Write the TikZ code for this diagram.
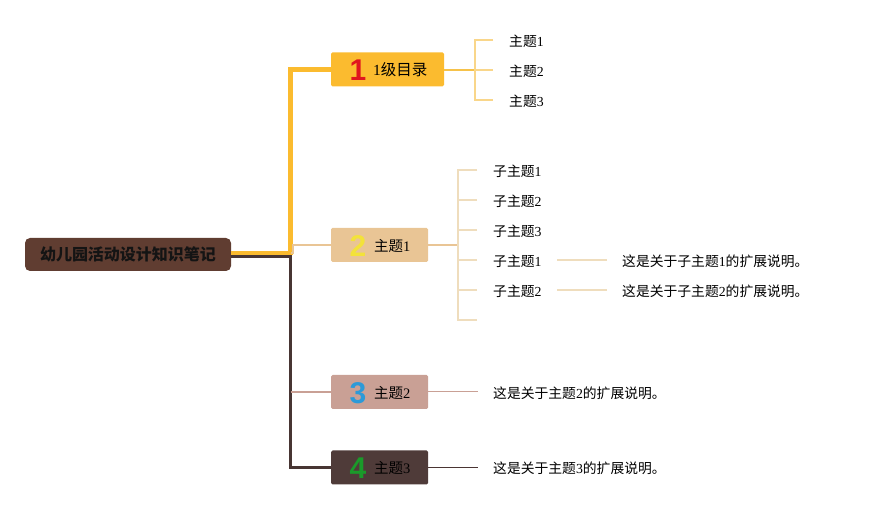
\documentclass[tikz,border=0pt]{standalone}
\usepackage{fontspec}
\setmainfont{Liberation Serif}
\newfontfamily\cjk{Noto Sans CJK SC}
\newfontfamily\numfont{Liberation Sans}
\definecolor{rootfill}{HTML}{603D31}
\definecolor{cyellow}{HTML}{FBBB2F}
\definecolor{ctan}{HTML}{E9C595}
\definecolor{crose}{HTML}{C9A095}
\definecolor{cdark}{HTML}{4F3B39}
\definecolor{clinedark}{HTML}{4A3533}
\definecolor{lyellow}{HTML}{F9D68A}
\definecolor{myellow}{HTML}{F6C24A}
\definecolor{ltan}{HTML}{EFDDBD}
\definecolor{nred}{HTML}{E0161E}
\definecolor{nyellow}{HTML}{F3E23A}
\definecolor{nblue}{HTML}{2C9AD8}
\definecolor{ngreen}{HTML}{1A9A2A}
\begin{document}
\begin{tikzpicture}[x=1pt,y=-1pt,
  topicbox/.style={rectangle, rounded corners=1.5pt, minimum height=34pt, inner sep=0pt},
  badge/.style={font=\numfont\bfseries\fontsize{30}{30}\selectfont, inner sep=0pt},
  toptext/.style={anchor=west, inner sep=0pt, font=\fontsize{14.5}{14.5}\selectfont},
  leaf/.style={anchor=west, inner sep=0pt, font=\fontsize{13.8}{13.8}\selectfont},
]
\useasboundingbox (0,0) rectangle (871,510);
% root
\node[fill=rootfill, rounded corners=5pt, minimum width=206pt, minimum height=33pt, inner sep=0pt,
  font=\cjk\bfseries\fontsize{16}{16}\selectfont, text=black!92] (root) at (128,254.5) {幼儿园活动设计知识笔记};
% topic boxes
\node[topicbox, fill=cyellow, minimum width=113pt] (b1) at (387.5,69.5) {};
\node[topicbox, fill=ctan, minimum width=97pt] (b2) at (379.5,245) {};
\node[topicbox, fill=crose, minimum width=97pt] (b3) at (379.5,392) {};
\node[topicbox, fill=cdark, minimum width=97pt] (b4) at (379.5,467.5) {};
% badges
\node[badge, text=nred] (n1) at (358,70) {1};
\node[badge, text=nyellow] (n2) at (358,246) {2};
\node[badge, text=nblue] (n3) at (358,393) {3};
\node[badge, text=ngreen] (n4) at (358,468) {4};
% topic texts
\node[toptext, font=\fontsize{15.5}{15.5}\selectfont] (t1) at (373,70) {1{\cjk 级目录}};
\node[toptext] (t2) at (374,246) {{\cjk 主题}1};
\node[toptext] (t3) at (374,393) {{\cjk 主题}2};
\node[toptext] (t4) at (374,468) {{\cjk 主题}3};
% main connectors
\coordinate (j1) at (290.5,253);
\draw[cdark!90!black, line width=3pt] (root.east |- 0,256.5) -- (290.5,256.5) -- (290.5,467.5) -- (b4.west);
\draw[cyellow, line width=4.5pt] (root.east |- 0,253) -- (j1) -- (290.5,69.5) -- (b1.west);
\draw[ctan, line width=1.5pt] (j1) -- (293,253) -- (293,245) -- (b2.west);
\draw[crose, line width=1.5pt] (290.5,392) -- (b3.west);
% branch 1 leaves
\node[leaf] (l11) at (509,41) {{\cjk 主题}1};
\node[leaf] (l12) at (509,71) {{\cjk 主题}2};
\node[leaf] (l13) at (509,101) {{\cjk 主题}3};
\coordinate (k1) at (475,70);
\draw[myellow, line width=2.2pt] (b1.east |- k1) -- (k1);
\draw[lyellow, line width=1.5pt] (493,40) -- (475,40) -- (475,100) -- (493,100);
\draw[lyellow, line width=1.5pt] (k1) -- (493,70);
% branch 2 leaves
\node[leaf] (l21) at (493,171) {{\cjk 子主题}1};
\node[leaf] (l22) at (493,201) {{\cjk 子主题}2};
\node[leaf] (l23) at (493,231) {{\cjk 子主题}3};
\node[leaf] (l24) at (493,261) {{\cjk 子主题}1};
\node[leaf] (l25) at (493,291) {{\cjk 子主题}2};
\coordinate (k2) at (458,245);
\draw[ctan, line width=1.8pt] (b2.east) -- (k2);
\draw[ltan, line width=1.5pt] (477,170) -- (458,170) -- (458,320) -- (477,320);
\foreach \yy in {200,230,260,290} \draw[ltan, line width=1.5pt] (458,\yy) -- (477,\yy);
% extensions
\node[leaf] (e1) at (622,261) {{\cjk 这是关于子主题}1{\cjk 的扩展说明。}};
\node[leaf] (e2) at (622,291) {{\cjk 这是关于子主题}2{\cjk 的扩展说明。}};
\draw[ltan, line width=1.5pt] (557,260) -- (607,260);
\draw[ltan, line width=1.5pt] (557,290) -- (607,290);
\node[leaf] (e3) at (493,393) {{\cjk 这是关于主题}2{\cjk 的扩展说明。}};
\node[leaf] (e4) at (493,468) {{\cjk 这是关于主题}3{\cjk 的扩展说明。}};
\draw[crose, line width=1pt] (b3.east) -- (478,392);
\draw[clinedark, line width=1pt] (b4.east) -- (478,467.5);
\end{tikzpicture}
\end{document}
